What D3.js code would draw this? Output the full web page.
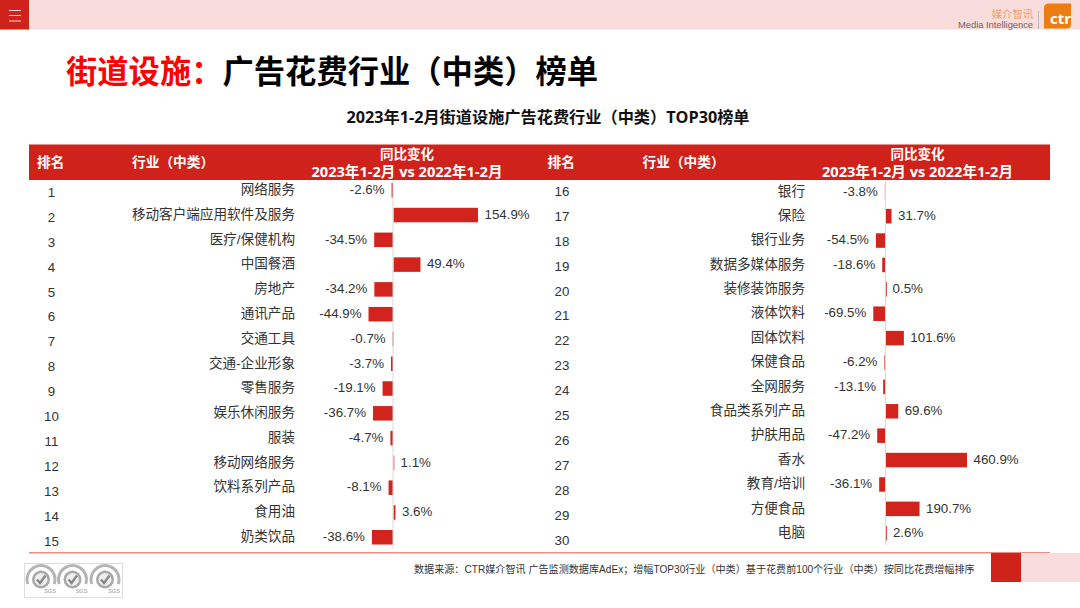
<!DOCTYPE html>
<html><head><meta charset="utf-8">
<script src="https://cdn.jsdelivr.net/npm/d3@7/dist/d3.min.js"></script>
<style>html,body{margin:0;padding:0;background:#fff;overflow:hidden}svg{display:block}text{font-family:"Liberation Sans","Noto Sans CJK SC",sans-serif}.b{font-family:"Open Sans","Noto Sans CJK SC",sans-serif;font-weight:700}</style>
</head><body><svg id="c" width="1080" height="608"></svg>
<script>
const leftNames=["网络服务","移动客户端应用软件及服务","医疗/保健机构","中国餐酒","房地产","通讯产品","交通工具","交通-企业形象","零售服务","娱乐休闲服务","服装","移动网络服务","饮料系列产品","食用油","奶类饮品"];
const leftValues=[-2.6,154.9,-34.5,49.4,-34.2,-44.9,-0.7,-3.7,-19.1,-36.7,-4.7,1.1,-8.1,3.6,-38.6];
const rightNames=["银行","保险","银行业务","数据多媒体服务","装修装饰服务","液体饮料","固体饮料","保健食品","全网服务","食品类系列产品","护肤用品","香水","教育/培训","方便食品","电脑"];
const rightValues=[-3.8,31.7,-54.5,-18.6,0.5,-69.5,101.6,-6.2,-13.1,69.6,-47.2,460.9,-36.1,190.7,2.6];
const leftRanks=d3.range(1,16), rightRanks=d3.range(16,31);
const RED="#cf221b",PINK="#f9dcdc",TXT="#333";
const svg=d3.select("#c");
function rect(x,y,w,h,f){return svg.append("rect").attr("x",x).attr("y",y).attr("width",w).attr("height",h).attr("fill",f)}
function text(s,x,y,size,fill,anchor,cls){return svg.append("text").text(s).attr("x",x).attr("y",y).attr("font-size",size).attr("fill",fill).attr("text-anchor",anchor||"start").attr("class",cls||null).attr("dominant-baseline","central")}
// top band
rect(0,0,1080,29.5,PINK);rect(0,0,29,29.5,RED);
[10,15,20.5].forEach(y=>rect(9,y,12,1,"#f7d5d3"));
// logo
text("媒介智讯",1033,14.5,10.3,"#eda06a","end");
text("Media Intelligence",1033,24.7,9.3,"#666","end");
rect(1038,11,1,18,"#bbb");
svg.append("path").attr("d","M1049 3.5H1071V24Q1071 28.5 1067 28.5H1044V8Q1044 3.5 1049 3.5Z").attr("fill","#ee7d11");
text("ctr",1050,18,15,"#fff",null,"b");
// title
const t=svg.append("text").attr("x",66).attr("y",68.5).attr("font-size",31.3).attr("font-weight",700).attr("dominant-baseline","central").style("font-family","'Noto Sans CJK SC'");
t.append("tspan").attr("fill","#f00").text("街道设施：");
t.append("tspan").attr("fill","#000").text("广告花费行业（中类）榜单");
text("2023年1-2月街道设施广告花费行业（中类）TOP30榜单",548,117,16.2,"#111","middle","b");
// header
rect(29,144.5,1021,35.5,RED);
function header(x0,xMid){
  text("排名",x0+8,161,13.7,"#fff",null,"b");
  text("行业（中类）",x0+103,161,13.7,"#fff",null,"b");
  text("同比变化",xMid,153.5,13.5,"#fff","middle","b");
  text("2023年1-2月 vs 2022年1-2月",xMid,170.5,14.6,"#fff","middle","b");
}
header(29,407);header(539.5,917.5);
// panels
function panel(names,vals,ranks,o){
  const y=d3.scalePoint().domain(d3.range(15)).range(o.yr);
  const ry=d3.scalePoint().domain(d3.range(15)).range(o.rankY);
  const x=d3.scaleLinear().domain([0,o.maxV]).range([o.zero,o.maxX]);
  const g=svg.append("g");
  g.selectAll(".bar").data(vals).join("rect").attr("class","bar")
    .attr("x",d=>d<0?x(d):x(0)+.5).attr("width",d=>Math.max(Math.abs(x(d)-x(0)),.8))
    .attr("y",(d,i)=>y(i)-7).attr("height",14.5).attr("fill","#d2231c");
  g.append("line").attr("x1",x(0)).attr("x2",x(0)).attr("y1",o.axis[0]).attr("y2",o.axis[1]).attr("stroke","#d9d9d9");
  g.selectAll(".n").data(names).join("text").attr("class","n").text(d=>d).attr("x",o.nameX).attr("y",(d,i)=>y(i)-.5).attr("text-anchor","end").attr("font-size",13.6).attr("fill",TXT).attr("dominant-baseline","central");
  g.selectAll(".v").data(vals).join("text").attr("class","v").text(d=>d+"%").attr("x",d=>d<0?x(d)-7:x(d)+7).attr("y",(d,i)=>y(i)-.5).attr("text-anchor",d=>d<0?"end":"start").attr("font-size",13.3).attr("fill",TXT).attr("dominant-baseline","central");
  g.selectAll(".r").data(ranks).join("text").attr("class","r").text(d=>d).attr("x",o.rankX).attr("y",(d,i)=>ry(i)-.5).attr("text-anchor","middle").attr("font-size",13.3).attr("fill",TXT).attr("dominant-baseline","central");
}
panel(leftNames,leftValues,leftRanks,{yr:[190,537],rankY:[193,541.5],zero:393,maxV:154.9,maxX:477.5,nameX:295,rankX:51.5,axis:[180,549]});
panel(rightNames,rightValues,rightRanks,{yr:[191.5,533],rankY:[192,540.5],zero:885.5,maxV:460.9,maxX:966.5,nameX:805,rankX:562,axis:[180,545]});
// footer
rect(29,552,1021,1.5,"#f08a85");
rect(991,553,30,29,RED);rect(1021,553,59,29,PINK);
text("数据来源：CTR媒介智讯 广告监测数据库AdEx；增幅TOP30行业（中类）基于花费前100个行业（中类）按同比花费增幅排序",414,569,10.1,"#333");
// certification badges
svg.append("rect").attr("x",24.5).attr("y",563.5).attr("width",98).attr("height",34).attr("fill","#fff").attr("stroke","#ddd");
[41,72.5,105].forEach(cx=>{
  const b=svg.append("g").attr("transform",`translate(${cx},579.5)`);
  b.append("path").attr("d",d3.arc()({innerRadius:12.5,outerRadius:15.5,startAngle:-1.9,endAngle:1.9})).attr("fill","#b5b5b5");
  b.append("circle").attr("r",9).attr("fill","#a8a8a8");
  b.append("circle").attr("r",6.5).attr("fill","#eee");
  b.append("path").attr("d","M-4 0L-1 3.5L4.5 -4").attr("fill","none").attr("stroke","#888").attr("stroke-width",2.4);
  b.append("text").text("SGS").attr("x",9).attr("y",13.2).attr("font-size",5.5).attr("fill","#999").attr("text-anchor","middle");
});
</script></body></html>
